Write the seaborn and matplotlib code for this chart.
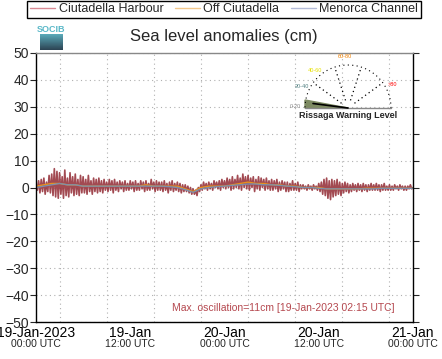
import matplotlib
matplotlib.use("Agg")
import matplotlib.pyplot as plt
import matplotlib.dates as mdates
import matplotlib.transforms as mtransforms
from matplotlib.lines import Line2D
import numpy as np
import pandas as pd
import seaborn as sns

# Ciutadella Harbour, every 10 min (cm), one row per hour
harbour = [
    1.5, -1.0, 2.5, -2.0, 3.0, -1.5,
    3.5, -2.5, 2.0, -1.5, 4.5, -2.0,
    5.0, -3.0, 7.0, -3.5, 6.0, -4.0,
    5.5, -2.5, 4.0, -4.0, 6.5, -3.0,
    3.5, -3.5, 5.5, -2.0, 4.0, -3.0,
    5.0, -2.5, 3.0, -3.0, 4.5, -2.0,
    4.0, -2.0, 3.0, -2.5, 4.5, -1.5,
    2.5, -2.5, 3.5, -1.5, 3.0, -2.0,
    3.5, -1.5, 2.5, -2.0, 3.0, -1.0,
    2.0, -1.5, 3.0, -1.0, 2.5, -2.0,
    3.0, -1.0, 2.0, -1.5, 2.5, -0.5,
    2.0, -1.5, 2.5, -1.0, 1.5, -1.0,
    2.5, -0.5, 2.0, -1.5, 2.5, -1.0,
    1.5, -1.0, 2.5, -0.5, 2.0, -1.5,
    2.5, -1.0, 1.5, -1.0, 3.0, -0.5,
    2.0, -1.5, 2.5, -1.0, 2.0, -1.0,
    2.0, -1.5, 2.5, -1.0, 1.5, -2.0,
    2.0, -1.0, 2.5, -1.5, 1.5, -1.0,
    2.0, -1.5, 1.5, -2.0, 1.0, -1.5,
    1.0, -1.5, 0.5, -2.0, 0.0, -2.5,
    -0.5, -2.5, -1.0, -3.0, 0.0, -1.5,
    1.0, -1.0, 2.0, -0.5, 1.5, -1.0,
    2.0, -0.5, 1.5, -1.0, 2.5, 0.0,
    2.0, -0.5, 2.5, -1.0, 3.0, 0.0,
    2.5, -0.5, 3.5, 0.0, 3.0, -1.0,
    4.0, -0.5, 3.0, 0.0, 4.5, -0.5,
    3.5, -1.0, 5.0, 0.0, 4.0, -0.5,
    4.5, -1.0, 3.5, 0.0, 4.0, -1.5,
    3.0, -0.5, 4.0, -1.0, 3.5, 0.0,
    3.0, -1.0, 3.5, -0.5, 2.5, -1.0,
    3.0, -1.0, 2.5, -0.5, 3.0, -1.5,
    2.0, -1.0, 2.5, -0.5, 2.0, -1.5,
    2.0, -1.5, 1.5, -1.0, 2.5, -1.0,
    1.5, -1.0, 2.0, -1.5, 1.0, -0.5,
    1.0, -0.5, 0.5, -1.0, 1.0, -0.5,
    0.5, -1.0, 1.0, -0.5, 0.5, -1.0,
    1.5, -1.5, 2.0, -2.5, 3.0, -3.0,
    3.5, -4.0, 2.5, -4.5, 3.0, -3.5,
    2.5, -3.0, 3.0, -2.5, 2.0, -3.0,
    1.5, -2.0, 2.0, -1.5, 1.5, -2.0,
    1.0, -1.5, 1.5, -1.0, 1.0, -1.5,
    1.5, -1.0, 1.0, -1.5, 1.5, -1.0,
    1.0, -1.5, 1.0, -1.0, 1.5, -1.0,
    1.0, -1.0, 1.5, -1.0, 1.0, -1.5,
    1.0, -1.0, 1.5, -1.0, 0.5, -1.0,
    1.0, -1.0, 0.5, -1.0, 1.0, -0.5,
    0.5, -1.0, 1.0, -0.5, 0.5, -1.0,
    0.5, -1.0, 0.5, -0.5, 1.0, -0.5,
    0.0,
]
# Off Ciutadella, hourly (cm)
off_ciutadella = [
    0.5, 1.0, 1.5, 1.5, 1.0, 1.0, 0.5, 0.5, 0.5, 0.5, 0.5, 0.5, 0.5,
    0.5, 1.0, 0.5, 0.5, 0.5, 0.5, -0.5, -1.5, 0.0, 0.5, 0.5, 0.5, 1.0,
    1.5, 2.0, 1.5, 1.5, 1.0, 1.0, 0.5, 0.5, 0.0, 0.0, 0.0, -0.5, -0.5,
    -0.5, -0.5, -0.5, -0.3, -0.3, -0.3, -0.3, -0.3, -0.3, -0.3,
]
# Menorca Channel, hourly (cm)
menorca_channel = [
    0.0, 0.5, 1.0, 1.5, 1.0, 1.0, 0.5, 0.5, 0.5, 0.5, 0.5, 0.5, 0.5,
    0.5, 0.5, 0.5, 0.5, 0.3, 0.0, -0.8, -1.8, -0.5, 0.0, 0.3, 0.5, 0.8,
    1.0, 1.3, 1.3, 1.0, 1.0, 0.8, 0.5, 0.3, 0.0, 0.0, -0.3, -0.5, -0.5,
    -0.5, -0.5, -0.5, -0.5, -0.5, -0.3, -0.3, -0.3, -0.3, -0.3,
]
series_names = ["Ciutadella Harbour", "Off Ciutadella", "Menorca Channel"]
tick_top = ["19-Jan-2023", "19-Jan", "20-Jan", "20-Jan", "21-Jan"]
tick_bottom = ["00:00 UTC", "12:00 UTC", "00:00 UTC", "12:00 UTC", "00:00 UTC"]
gauge_labels = ["0-20", "20-40", "40-60", "60-80", ">80"]

t_harbour = pd.date_range("2023-01-19 00:00", "2023-01-21 00:00", freq="10min")
t_hourly = pd.date_range("2023-01-19 00:00", "2023-01-21 00:00", freq="1h")
df_h = pd.DataFrame({"time": t_harbour, "level": harbour})
df_o = pd.DataFrame({"time": t_hourly, "level": off_ciutadella})
df_m = pd.DataFrame({"time": t_hourly, "level": menorca_channel})

sns.set_theme(style="white")
plt.rcParams["font.family"] = ["Liberation Sans", "DejaVu Sans"]

fig = plt.figure(figsize=(4.42, 3.59), dpi=100)
ax = fig.add_axes([36 / 442, 1 - 322 / 359, 377 / 442, 269 / 359])

sns.lineplot(data=df_h, x="time", y="level", ax=ax, color="#98363f",
             lw=1.2, alpha=0.9)
sns.lineplot(data=df_o, x="time", y="level", ax=ax, color="#e8901e", lw=1.0)
sns.lineplot(data=df_m, x="time", y="level", ax=ax, color="#7d8eab", lw=1.0)

ax.set_xlim(t_hourly[0], t_hourly[-1])
ax.set_ylim(-50, 50)
ax.set_yticks(range(-50, 51, 10))
ax.set_xlabel("")
ax.set_ylabel("")
ax.yaxis.grid(True, ls=(0, (1, 3)), color="#b0b0b0", lw=0.8)
for t in pd.date_range("2023-01-19 03:00", periods=8, freq="6h"):
    ax.axvline(t, ls=(0, (1, 3)), color="#b0b0b0", lw=0.8, zorder=0)

majors = pd.date_range("2023-01-19 00:00", periods=5, freq="12h")
ax.set_xticks(majors)
ax.set_xticklabels(tick_top, fontsize=10)
ax.xaxis.set_minor_locator(mdates.HourLocator(byhour=range(0, 24, 3)))
ax.tick_params(axis="x", which="both", direction="in", length=3, width=0.8,
               colors="black", pad=3)
ax.tick_params(axis="y", direction="out", length=4, width=0.8, labelsize=10,
               pad=1, right=True, left=True)
ax.tick_params(axis="y", which="major", labelright=False)
trans = mtransforms.blended_transform_factory(ax.transData, ax.transAxes)
for t, lab in zip(majors, tick_bottom):
    ax.text(t, -0.082, lab, transform=trans, ha="center", va="center",
            fontsize=7.5)

for s in ["left", "bottom", "right"]:
    ax.spines[s].set_color("black")
    ax.spines[s].set_linewidth(1.0)
ax.spines["top"].set_color("#888888")
ax.spines["top"].set_linewidth(1.0)

ax.text(0.95, 0.053, "Max. oscillation=11cm [19-Jan-2023 02:15 UTC]",
        transform=ax.transAxes, ha="right", va="center", fontsize=7.5,
        color="#b5484f")

fig.text(224 / 442, 1 - 36 / 359, "Sea level anomalies (cm)", ha="center",
         va="center", fontsize=12)

handles = [Line2D([], [], color=c, lw=1.0)
           for c in ["#d98a94", "#f3c88c", "#b4bcd8"]]
fig.legend(handles, series_names, loc="upper center", ncol=3,
           bbox_to_anchor=(224 / 442, 1 - 1 / 359), fontsize=9,
           frameon=True, fancybox=False, edgecolor="black", framealpha=1,
           borderpad=0.2, handlelength=2.0, handletextpad=0.3,
           columnspacing=0.9, borderaxespad=0)

# logo
lax = fig.add_axes([40 / 442, 1 - 50 / 359, 23 / 442, 16 / 359])
lax.imshow(np.linspace(0, 1, 20).reshape(-1, 1), cmap=sns.blend_palette(
    ["#5aa9b8", "#2d4555"], as_cmap=True), aspect="auto")
lax.axis("off")
fig.text(51 / 442, 1 - 30 / 359, "SOCIB", ha="center", va="center",
         fontsize=6.5, color="#5ab8c8", fontweight="bold")

# rissaga gauge
gax = fig.add_axes([290 / 442, 1 - 122 / 359, 116 / 442, 72 / 359])
gax.set_xlim(-58, 58)
gax.set_ylim(-14, 58)
gax.axis("off")
ang = np.linspace(0, np.pi, 60)
gax.plot(43 * np.cos(ang), 43 * np.sin(ang), ls=(0, (1, 3)), color="black",
         lw=0.8)
for a in np.deg2rad([36, 72, 108, 144]):
    gax.plot([8 * np.cos(a), 43 * np.cos(a)], [8 * np.sin(a), 43 * np.sin(a)],
             ls=(0, (1, 2.5)), color="black", lw=0.9)
gax.fill([-43, -43, 0], [0, 8, 0], color="#7d8a62")
gax.plot([-43, 43], [0, 0], color="#888888", lw=1.0)
gax.plot([-35, 0], [4.5, 0], color="black", lw=1.2)
gauge_pos = [(-53, 2), (-46, 22), (-33, 38), (-3, 51), (44, 24)]
gauge_cols = ["#888888", "#4f7f80", "#e6e000", "#f08000", "#ff0000"]
for (gx, gy), c, lab in zip(gauge_pos, gauge_cols, gauge_labels):
    gax.text(gx, gy, lab, color=c, fontsize=4, ha="center", va="center")
gax.text(0, -7, "Rissaga Warning Level", ha="center", va="center",
         fontsize=6.5, fontweight="bold")

fig.savefig("out.png", dpi=100)
